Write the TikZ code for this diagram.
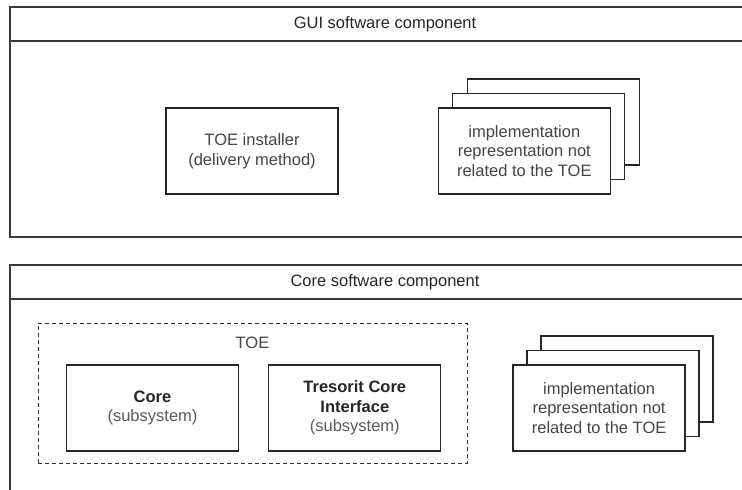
\documentclass[tikz,border=0pt]{standalone}
\usepackage{fontspec}
\setmainfont{Liberation Sans}
\usetikzlibrary{positioning}
\definecolor{txtgrey}{HTML}{454545}
\definecolor{subgrey}{HTML}{5A5A5A}
\definecolor{framegrey}{HTML}{3A3A3A}
\tikzstyle{container} = [rectangle, minimum width=750pt, outer sep=0pt, draw=framegrey, line width=1.4pt]
\tikzstyle{header} = [container, minimum height=34pt, text=black!85, font=\fontsize{16.5}{19.5}\selectfont]
\tikzstyle{block} = [rectangle, minimum width=172pt, minimum height=86pt, inner sep=0pt, text centered, align=center, draw=black!85, line width=1.3pt, fill=white, text=txtgrey, font=\fontsize{16.5}{19.5}\selectfont]
\tikzstyle{toebox} = [rectangle, minimum width=429pt, minimum height=140pt, draw=black!80, line width=1pt, dash pattern=on 4pt off 3pt]
\tikzstyle{plain} = [text=txtgrey, font=\fontsize{16.5}{19.5}\selectfont]

\begin{document}
\begin{tikzpicture}[x=1pt, y=-1pt]
\useasboundingbox (0,0) rectangle (742,490);
\clip (0,0) rectangle (742,490);

% GUI software component
\node (guihead) [header, anchor=north west] at (10,7) {GUI software component};
\node (guibody) [container, minimum height=196pt, below=0pt of guihead] {};

\node (installer) [block] at (252,151) {TOE installer\\(delivery method)};
\node (guiback) [block, right=128pt of installer, yshift=29pt] {};
\node (guimid) [block, right=113.5pt of installer, yshift=14.5pt] {};
\node (guiimpl) [block, right=99pt of installer] {implementation\\representation not\\related to the TOE};

% Core software component
\node (corehead) [header, anchor=north west] at (10,265) {Core software component};
\node (corebody) [container, minimum height=230pt, below=0pt of corehead] {};

% TOE
\node (toe) [toebox] at (252.5,393) {};
\node (toelabel) [plain] at (252.5,343) {TOE};
\node (core) [block] at (152.5,408) {\textbf{\color{black!85}Core}\\{\color{subgrey}(subsystem)}};
\node (tci) [block, right=29pt of core] {\textbf{\color{black!85}Tresorit Core}\\\textbf{\color{black!85}Interface}\\{\color{subgrey}(subsystem)}};

% not related to the TOE
\node (coreback) [block, right=99pt of tci, yshift=29pt] {};
\node (coremid) [block, right=85pt of tci, yshift=14.5pt] {};
\node (coreimpl) [block, right=71pt of tci] {implementation\\representation not\\related to the TOE};

\end{tikzpicture}
\end{document}
